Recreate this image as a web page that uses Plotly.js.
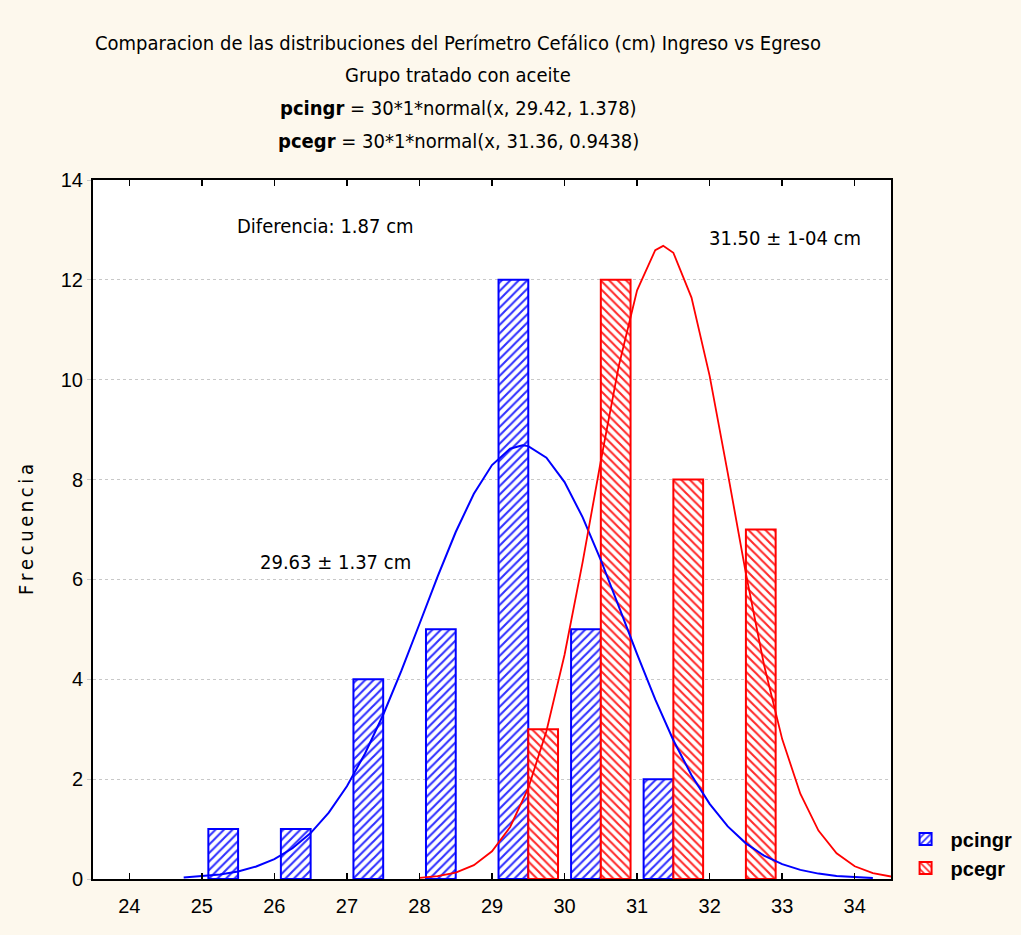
<!DOCTYPE html>
<html>
<head>
<meta charset="utf-8">
<script src="https://cdn.plot.ly/plotly-3.0.1.min.js"></script>
<style>html,body{margin:0;padding:0;background:#fdf8ed;}</style>
</head>
<body>
<div id="chart" style="width:1021px;height:935px;"></div>
<script>
// Histogram bins (bin centres, cm) and counts; empty bins are left out
const pcingrBins   = [25.5, 26.5, 27.5, 28.5, 29.5, 30.5, 31.5];
const pcingrCounts = [1, 1, 4, 5, 12, 5, 2];
const pcegrBins    = [29.5, 30.5, 31.5, 32.5];
const pcegrCounts  = [3, 12, 8, 7];

// Fitted normal curves as drawn: pcingr = 30*1*normal(x, 29.42, 1.378)
const pcingrCurveX = [24.75,25,25.25,25.5,25.75,26,26.25,26.5,26.75,27,27.25,27.5,27.75,28,28.25,28.5,28.75,29,29.25,29.42,29.5,29.75,30,30.25,30.5,30.75,31,31.25,31.5,31.75,32,32.25,32.5,32.75,33,33.25,33.5,33.75,34,34.25];
const pcingrCurveY = [0.028,0.051,0.089,0.152,0.250,0.399,0.616,0.920,1.329,1.858,2.514,3.290,4.167,5.107,6.057,6.950,7.717,8.291,8.619,8.685,8.670,8.439,7.949,7.244,6.389,5.452,4.502,3.596,2.780,2.079,1.505,1.054,0.714,0.468,0.297,0.183,0.108,0.062,0.035,0.019];
// pcegr = 30*1*normal(x, 31.36, 0.9438)
const pcegrCurveX = [28,28.25,28.5,28.75,29,29.25,29.5,29.75,30,30.25,30.5,30.75,31,31.25,31.36,31.5,31.75,32,32.25,32.5,32.75,33,33.25,33.5,33.75,34,34.25,34.5];
const pcegrCurveY = [0.022,0.056,0.129,0.277,0.556,1.042,1.819,2.960,4.491,6.351,8.372,10.291,11.791,12.595,12.681,12.543,11.644,10.076,8.130,6.115,4.286,2.802,1.708,0.970,0.514,0.254,0.117,0.050];

const xTicks = [24,25,26,27,28,29,30,31,32,33,34];
const yTicks = [0,2,4,6,8,10,12,14];

const narrow = '"Liberation Sans Narrow", "Arial Narrow", "DejaVu Sans Condensed", sans-serif';
const regular = '"Liberation Sans", Arial, sans-serif';

const traces = [
  {
    type: 'bar', name: 'pcingr', x: pcingrBins, y: pcingrCounts,
    marker: {color: '#ffffff', line: {color: '#0000ff', width: 2},
      pattern: {shape: '/', fgcolor: '#3030ff', bgcolor: '#ffffff', size: 6, solidity: 0.35}},
    hoverinfo: 'x+y'
  },
  {
    type: 'bar', name: 'pcegr', x: pcegrBins, y: pcegrCounts,
    marker: {color: '#ffffff', line: {color: '#ff0000', width: 2},
      pattern: {shape: '\\', fgcolor: '#ff2a2a', bgcolor: '#ffffff', size: 6, solidity: 0.35}},
    hoverinfo: 'x+y'
  },
  {
    type: 'scatter', mode: 'lines', x: pcingrCurveX, y: pcingrCurveY,
    line: {color: '#0000ff', width: 2}, showlegend: false, hoverinfo: 'skip'
  },
  {
    type: 'scatter', mode: 'lines', x: pcegrCurveX, y: pcegrCurveY,
    line: {color: '#ff0000', width: 1.8}, showlegend: false, hoverinfo: 'skip'
  }
];

const layout = {
  width: 1021, height: 935,
  paper_bgcolor: '#fdf8ed', plot_bgcolor: '#ffffff',
  margin: {l: 93, r: 130, t: 180, b: 56, autoexpand: false},
  barmode: 'group', bargap: 0.18, bargroupgap: 0,
  title: {
    text: 'Comparacion de las distribuciones del Perímetro Cefálico (cm) Ingreso vs Egreso',
    font: {family: narrow, size: 20, color: '#000'},
    x: 458/1021, xanchor: 'center', xref: 'container',
    y: 1 - 43/935, yanchor: 'middle', yref: 'container'
  },
  xaxis: {
    range: [23.5, 34.5], tickvals: xTicks, ticktext: xTicks.map(String),
    showgrid: false, zeroline: false,
    ticks: 'inside', ticklen: 6, tickwidth: 1.5, tickcolor: '#000',
    showline: true, linecolor: '#000', linewidth: 2, mirror: 'ticks',
    ticklabelstandoff: 8,
    tickfont: {family: regular, size: 20, color: '#000'}
  },
  yaxis: {
    range: [0, 14], tickvals: yTicks, ticktext: yTicks.map(String),
    showgrid: true, gridcolor: '#c8c8c8', griddash: 'dot', gridwidth: 1,
    zeroline: false,
    ticks: 'outside', ticklen: 4, tickcolor: '#c8c8c8',
    showline: true, linecolor: '#000', linewidth: 2, mirror: true,
    tickfont: {family: regular, size: 20, color: '#000'},
    title: {text: 'F\u2009r\u2009e\u2009c\u2009u\u2009e\u2009n\u2009c\u2009i\u2009a', font: {family: narrow, size: 20, color: '#000'}, standoff: 22}
  },
  legend: {
    x: 1.012, xanchor: 'left', y: 0.085, yanchor: 'top',
    bgcolor: 'rgba(0,0,0,0)', borderwidth: 0,
    font: {family: regular, size: 20, color: '#000', weight: 'bold'},
    itemwidth: 40, tracegroupgap: 2
  },
  annotations: [
    {text: 'Grupo tratado con aceite', xref: 'paper', yref: 'paper', x: (458-93)/798, y: (879-75)/699,
     showarrow: false, xanchor: 'center', yanchor: 'middle', font: {family: narrow, size: 20, color: '#000'}},
    {text: '<b>pcingr</b> = 30*1*normal(x, 29.42, 1.378)', xref: 'paper', yref: 'paper', x: (458-93)/798, y: (879-108)/699,
     showarrow: false, xanchor: 'center', yanchor: 'middle', font: {family: narrow, size: 20, color: '#000'}},
    {text: '<b>pcegr</b> = 30*1*normal(x, 31.36, 0.9438)', xref: 'paper', yref: 'paper', x: (458-93)/798, y: (879-141)/699,
     showarrow: false, xanchor: 'center', yanchor: 'middle', font: {family: narrow, size: 20, color: '#000'}},
    {text: 'Diferencia: 1.87 cm', xref: 'paper', yref: 'paper', x: (235-93)/798, y: (879-226)/699,
     showarrow: false, xanchor: 'left', yanchor: 'middle', font: {family: narrow, size: 20, color: '#000'}},
    {text: '31.50 ± 1-04 cm', xref: 'paper', yref: 'paper', x: (707-93)/798, y: (879-238)/699,
     showarrow: false, xanchor: 'left', yanchor: 'middle', font: {family: narrow, size: 20, color: '#000'}},
    {text: '29.63 ± 1.37 cm', xref: 'paper', yref: 'paper', x: (258-93)/798, y: (879-562)/699,
     showarrow: false, xanchor: 'left', yanchor: 'middle', font: {family: narrow, size: 20, color: '#000'}}
  ]
};

Plotly.newPlot('chart', traces, layout, {displayModeBar: false, staticPlot: true});
</script>
</body>
</html>
